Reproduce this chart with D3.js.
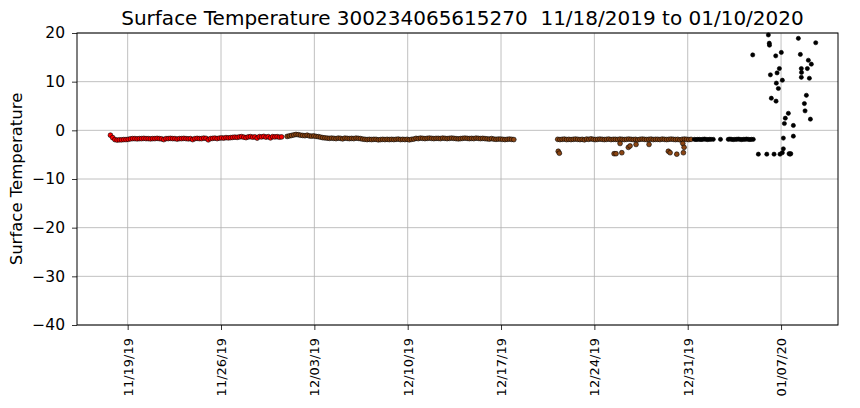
<!DOCTYPE html>
<html><head><meta charset="utf-8">
<script src="https://cdn.jsdelivr.net/npm/d3@7"></script>
<style>body{margin:0;background:#fff}svg{display:block;font-family:"DejaVu Sans",sans-serif}</style>
</head><body><div id="chart"></div>
<script>
const titleText = "Surface Temperature 300234065615270  11/18/2019 to 01/10/2020";
const yLabel = "Surface Temperature";
const xTicks = ["2019-11-19","2019-11-26","2019-12-03","2019-12-10","2019-12-17","2019-12-24","2019-12-31","2020-01-07"];
const yTicks = [-40,-30,-20,-10,0,10,20];
const xDomain = ["2019-11-15T04:48:00Z","2020-01-11T06:30:00Z"];
const yDomain = [-40, 20];

// regularly sampled segments: start time, step in hours, values
const redStart = "2019-11-17T17:00:00Z", redStep = 4;
const redValues = [-1.0,-1.5,-1.9,-2.0,-1.95,-1.95,-1.9,-1.9,-1.85,
 -1.75,-1.7,-1.7,-1.75,-1.7,-1.7,-1.65,-1.7,-1.7,-1.75,-1.7,-1.7,-1.65,-1.7,-1.75,-1.9,-1.7,-1.7,-1.65,-1.7,-1.7,-1.8,-1.7,-1.7,-1.65,-1.7,-1.75,
 -1.7,-1.9,-1.7,-1.65,-1.7,-1.7,-1.6,-1.65,-1.95,-1.7,-1.65,-1.6,-1.7,-1.6,-1.55,-1.6,-1.5,-1.55,-1.5,-1.45,
 -1.4,-1.45,-1.35,-1.3,-1.4,-1.5,-1.35,-1.3,-1.4,-1.35,-1.6,-1.3,-1.35,-1.25,-1.4,-1.3,-1.55,-1.3,-1.35,-1.3,-1.4,-1.35];

const brown1Start = "2019-11-30T23:00:00Z", brown1Step = 4;
const brown1Values = [-1.25,-1.15,-1.05,-0.95,-0.85,-0.9,-1.0,-1.05,-1.1,-1.0,-1.15,-1.2,-1.15,-1.25,-1.3,-1.4,-1.5,-1.55,
 -1.6,-1.65,-1.6,-1.65,-1.7,-1.6,-1.65,-1.75,-1.6,-1.65,-1.7,-1.65,-1.7,-1.6,-1.65,-1.7,
 -1.8,-1.85,-1.9,-1.85,-1.9,-1.85,-1.85,-1.95,-1.9,-1.85,-1.9,-1.85,-1.9,-1.85,-1.9,-1.85,-1.8,-1.9,-1.85,-1.9,-1.85,-1.95,-1.85,-1.8,
 -1.65,-1.7,-1.6,-1.65,-1.7,-1.65,-1.6,-1.65,-1.7,-1.65,-1.65,-1.7,-1.6,-1.65,-1.7,-1.65,-1.6,-1.65,-1.7,-1.75,-1.7,-1.65,-1.6,-1.65,-1.7,-1.65,-1.7,-1.6,-1.65,-1.7,-1.65,-1.7,
 -1.75,-1.8,-1.7,-1.8,-1.85,-1.8,-1.8,-1.85,-1.9,-1.85,-1.8,-1.85,-1.9];

const brown2Start = "2019-12-21T06:00:00Z", brown2Step = 4;
const brown2Values = [-1.85,-1.9,-1.85,-1.8,-1.9,-1.85,-1.9,-1.85,-1.8,-1.85,
 -1.9,-1.85,-1.95,-1.8,-1.85,-1.75,-1.85,-1.9,-1.85,-1.8,
 -1.85,-1.9,-1.85,-1.8,-1.9,-1.85,-1.85,-1.9,-1.8,-1.85,
 -1.9,-1.85,-1.8,-1.85,-1.9,-1.85,-1.95,-1.85,-1.8,-1.85,
 -1.9,-1.85,-1.8,-1.9,-1.85,-1.85,-1.9,-1.8,-1.85,-1.9,
 -1.85,-1.8,-1.85,-1.9,-1.85,-1.95,-1.85,-1.8,-1.85,-1.9,-1.85];

const brownOutlierTimes = ["2019-12-21T07:00:00Z","2019-12-21T09:00:00Z","2019-12-25T11:30:00Z","2019-12-25T15:00:00Z","2019-12-25T22:15:00Z","2019-12-26T01:25:00Z",
 "2019-12-26T13:10:00Z","2019-12-26T16:15:00Z","2019-12-27T03:00:00Z","2019-12-28T02:25:00Z","2019-12-29T13:10:00Z","2019-12-29T16:20:00Z",
 "2019-12-30T04:20:00Z","2019-12-30T15:10:00Z","2019-12-30T17:30:00Z","2019-12-30T16:15:00Z"];
const brownOutlierValues = [-4.3,-4.7,-4.8,-4.8,-2.7,-4.6,-3.5,-3.2,-2.9,-2.9,-4.3,-4.6,-4.9,-2.7,-3.5,-4.6];

const black1Start = "2019-12-31T12:00:00Z", black1Step = 3;
const black1Values = [-1.85,-1.9,-1.85,-1.85,-1.9,-1.85,-1.8,-1.85,-1.9,-1.85,-1.85];
const black2Start = "2020-01-03T01:00:00Z", black2Step = 3;
const black2Values = [-1.85,-1.8,-1.85,-1.9,-1.85,-1.85,-1.8,-1.85,-1.9,-1.85,-1.85,-1.8,-1.85,-1.9,-1.85,-1.85];

const blackTimes = ["2020-01-01T22:00:00Z","2020-01-02T11:00:00Z",
 "2020-01-06T01:10:00Z","2020-01-06T02:50:00Z","2020-01-06T03:10:00Z","2020-01-04T21:00:00Z","2020-01-06T14:25:00Z","2020-01-07T00:30:00Z",
 "2020-01-08T07:10:00Z","2020-01-09T14:25:00Z","2020-01-08T10:45:00Z","2020-01-09T01:10:00Z","2020-01-09T06:30:00Z",
 "2020-01-08T12:30:00Z","2020-01-08T12:50:00Z","2020-01-08T23:20:00Z","2020-01-08T12:30:00Z","2020-01-09T03:00:00Z",
 "2020-01-06T21:00:00Z","2020-01-06T16:50:00Z","2020-01-06T04:50:00Z","2020-01-07T02:20:00Z","2020-01-06T15:30:00Z","2020-01-06T19:10:00Z",
 "2020-01-06T06:30:00Z","2020-01-06T15:00:00Z","2020-01-08T21:35:00Z","2020-01-08T18:00:00Z","2020-01-08T19:12:00Z","2020-01-09T04:50:00Z",
 "2020-01-07T13:10:00Z","2020-01-07T07:40:00Z","2020-01-07T06:00:00Z","2020-01-07T22:10:00Z","2020-01-07T22:10:00Z",
 "2020-01-07T04:10:00Z","2020-01-07T04:10:00Z","2020-01-05T07:10:00Z","2020-01-05T22:20:00Z","2020-01-06T11:25:00Z","2020-01-06T22:10:00Z",
 "2020-01-07T02:20:00Z","2020-01-07T14:25:00Z","2020-01-07T16:12:00Z","2020-01-07T17:30:00Z"];
const blackValues = [-1.85,-1.85,
 19.6,17.9,17.5,15.5,15.3,16.0,
 18.9,18.0,15.6,14.4,13.6,
 12.7,11.9,12.7,10.9,10.7,
 12.7,11.8,11.4,10.3,9.7,8.6,
 6.6,6.0,7.2,5.5,4.0,2.3,
 3.5,2.5,1.4,1.0,-1.2,
 -1.6,-3.8,-4.9,-4.9,-4.9,-4.9,
 -4.6,-4.8,-4.9,-4.8];

const W = 860, H = 408;
const margin = {left: 77, right: 22, top: 33, bottom: 83};
const svg = d3.select("#chart").append("svg").attr("width", W).attr("height", H);
const x = d3.scaleUtc().domain(xDomain.map(d => new Date(d))).range([margin.left, W - margin.right]);
const y = d3.scaleLinear().domain(yDomain).range([H - margin.bottom, margin.top]);

function seg(start, stepH, vals, color) {
  const t0 = new Date(start).getTime();
  return vals.map((v, i) => ({t: new Date(t0 + i * stepH * 3600e3), v, color}));
}
const points = [].concat(
  seg(redStart, redStep, redValues, "#ff0000"),
  seg(brown1Start, brown1Step, brown1Values, "#8b4513"),
  seg(brown2Start, brown2Step, brown2Values, "#8b4513"),
  brownOutlierTimes.map((t, i) => ({t: new Date(t), v: brownOutlierValues[i], color: "#8b4513"})),
  seg(black1Start, black1Step, black1Values, "#000000"),
  seg(black2Start, black2Step, black2Values, "#000000"),
  blackTimes.map((t, i) => ({t: new Date(t), v: blackValues[i], color: "#000000"}))
);

const x0 = margin.left, x1 = W - margin.right, y0 = margin.top, y1 = H - margin.bottom;
const fmt = d3.utcFormat("%m/%d/%y");
const xt = xTicks.map(d => new Date(d + "T00:00:00Z"));

// grid
const grid = svg.append("g").attr("stroke", "#b0b0b0").attr("stroke-width", 0.8);
grid.selectAll(".gx").data(xt).enter().append("line")
  .attr("x1", d => x(d)).attr("x2", d => x(d)).attr("y1", y0).attr("y2", y1);
grid.selectAll(".gy").data(yTicks).enter().append("line")
  .attr("y1", d => y(d)).attr("y2", d => y(d)).attr("x1", x0).attr("x2", x1);

// points
svg.append("g").selectAll("circle").data(points).enter().append("circle")
  .attr("cx", d => x(d.t)).attr("cy", d => y(d.v))
  .attr("r", d => d.color === "#000000" ? 2.1 : 2.4)
  .attr("fill", d => d.color).attr("stroke", "#000").attr("stroke-width", 0.6);

// frame
svg.append("rect").attr("x", x0).attr("y", y0).attr("width", x1 - x0).attr("height", y1 - y0)
  .attr("fill", "none").attr("stroke", "#000").attr("stroke-width", 1);

// x axis
const xAxis = d3.axisBottom(x).tickValues(xt).tickFormat(fmt).tickSize(5).tickPadding(4);
const gx = svg.append("g").attr("transform", `translate(0,${y1})`).call(xAxis);
gx.select(".domain").remove();
gx.selectAll(".tick line").attr("stroke", "#000").attr("stroke-width", 0.8);
gx.selectAll(".tick text").attr("font-size", "13px").attr("fill", "#000")
  .attr("font-family", "DejaVu Sans")
  .attr("text-anchor", "end").attr("transform", "rotate(-90)")
  .attr("x", -13).attr("y", 0).attr("dy", "0.35em");

// y axis
const yAxis = d3.axisLeft(y).tickValues(yTicks).tickFormat(d => d < 0 ? "\u2212" + Math.abs(d) : String(d)).tickSize(5).tickPadding(7);
const gy = svg.append("g").attr("transform", `translate(${x0},0)`).call(yAxis);
gy.select(".domain").remove();
gy.selectAll(".tick line").attr("stroke", "#000").attr("stroke-width", 0.8);
gy.selectAll(".tick text").attr("font-size", "15.5px").attr("fill", "#000").attr("font-family", "DejaVu Sans");

// labels
svg.append("text").attr("x", (x0 + x1) / 2 + 5).attr("y", 25).attr("text-anchor", "middle")
  .style("white-space", "pre")
  .attr("font-size", "20px").attr("fill", "#000").text(titleText);
svg.append("text").attr("transform", `translate(22,${(y0 + y1) / 2}) rotate(-90)`)
  .attr("text-anchor", "middle").attr("font-size", "16.5px").attr("fill", "#000").text(yLabel);
</script></body></html>
